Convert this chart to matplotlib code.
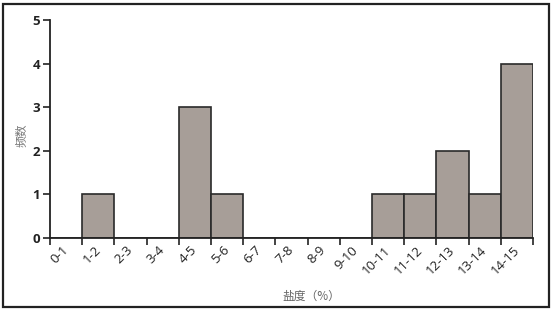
import matplotlib
matplotlib.use('Agg')
import matplotlib.pyplot as plt
from matplotlib.patches import Rectangle
import numpy as np

plt.rcParams['font.family'] = ['Noto Sans CJK SC', 'DejaVu Sans']

# salinity bins and counts
bins = ['0-1', '1-2', '2-3', '3-4', '4-5', '5-6', '6-7', '7-8', '8-9', '9-10',
        '10-11', '11-12', '12-13', '13-14', '14-15']
counts = [0, 1, 0, 0, 3, 1, 0, 0, 0, 0, 1, 1, 2, 1, 4]
y_ticks = [0, 1, 2, 3, 4, 5]

fig = plt.figure(figsize=(5.52, 3.11), dpi=100)
ax = fig.add_axes([0.0906, 0.2347, 0.875, 0.701])

x = np.arange(len(bins))
ax.bar(x + 0.5, counts, width=1.0, color='#a79e98', edgecolor='#2a2a2a', linewidth=1.2)

ax.set_xlim(0, len(bins))
ax.set_ylim(0, 5)
ax.set_xticks(np.arange(len(bins) + 1))
ax.set_xticklabels([])
ax.set_xticks(x + 0.65, minor=True)
ax.set_xticklabels(bins, minor=True, rotation=45, ha='right', va='top',
                   fontsize=9.5, family=['Open Sans', 'DejaVu Sans'], color='#222222')
ax.tick_params(axis='x', which='minor', length=0, pad=4)
ax.tick_params(axis='x', which='major', length=5, width=1.2, direction='out', color='#222222')
ax.set_yticks(y_ticks)
ax.set_yticklabels([str(v) for v in y_ticks], fontsize=9.5, fontweight='bold',
                   family=['Open Sans', 'DejaVu Sans'], color='#222222')
ax.tick_params(axis='y', length=5, width=1.2, color='#222222', pad=2)

for s in ['top', 'right']:
    ax.spines[s].set_visible(False)
for s in ['left', 'bottom']:
    ax.spines[s].set_linewidth(1.3)
    ax.spines[s].set_color('#222222')

ax.set_ylabel('频数', fontsize=8.5, color='#777777')
ax.yaxis.set_label_coords(-0.045, 0.47)
ax.set_xlabel('盐度（%）', fontsize=8.5, color='#666666')
ax.xaxis.set_label_coords(0.54, -0.24)

# outer frame
fig.patches.append(Rectangle((0.006, 0.012), 0.988, 0.976, transform=fig.transFigure,
                             fill=False, edgecolor='#222222', linewidth=1.6))

fig.savefig('out.png', dpi=100)
